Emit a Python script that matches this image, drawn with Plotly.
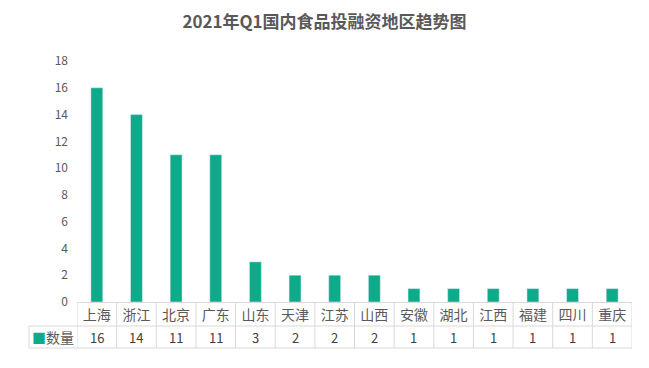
import plotly.graph_objects as go

categories = ["上海", "浙江", "北京", "广东", "山东", "天津", "江苏", "山西", "安徽", "湖北", "江西", "福建", "四川", "重庆"]
values = [16, 14, 11, 11, 3, 2, 2, 2, 1, 1, 1, 1, 1, 1]
series_name = "数量"
title = "2021年Q1国内食品投融资地区趋势图"
y_ticks = [0, 2, 4, 6, 8, 10, 12, 14, 16, 18]

BAR = "#0FAA8A"
GRID = "#D9D9D9"
TXT = "#595959"
FONT = "Noto Sans CJK SC, Microsoft YaHei, sans-serif"

W, H = 649, 368
L, R, T, B = 77, 17, 61, 66
ph = H - T - B
pw = W - L - R

def py(pix):
    return (H - B - pix) / ph

def px(pix):
    return (pix - L) / pw

fig = go.Figure()
fig.add_trace(go.Bar(x=categories, y=values, marker_color=BAR, width=0.3, name=series_name,
                     showlegend=False, hoverinfo="skip"))

shapes = []
n = len(categories)
for i in range(n + 1):
    shapes.append(dict(type="line", xref="x", yref="paper", x0=i - 0.5, x1=i - 0.5,
                       y0=0, y1=py(348), line=dict(color=GRID, width=1)))
for yy in (326, 348):
    shapes.append(dict(type="line", xref="paper", yref="paper", x0=px(29), x1=1,
                       y0=py(yy), y1=py(yy), line=dict(color=GRID, width=1)))
shapes.append(dict(type="line", xref="paper", yref="paper", x0=px(29), x1=px(29),
                   y0=py(326), y1=py(348), line=dict(color=GRID, width=1)))

annotations = []
for c, v in zip(categories, values):
    annotations.append(dict(x=c, xref="x", y=py(337), yref="paper", text=str(v), showarrow=False,
                            xanchor="center", yanchor="middle",
                            font=dict(family=FONT, size=13, color="#404040")))
annotations.append(dict(x=px(53), xref="paper", y=py(337), yref="paper",
                        text='<span style="color:%s">■</span>%s' % (BAR, series_name),
                        showarrow=False, xanchor="center", yanchor="middle",
                        font=dict(family=FONT, size=14, color=TXT)))

fig.update_layout(
    width=W, height=H,
    margin=dict(l=L, r=R, t=T, b=B, autoexpand=False),
    paper_bgcolor="white", plot_bgcolor="white",
    title=dict(text="<b>%s</b>" % title, x=0.5, xanchor="center", y=1 - 22 / H, yanchor="middle",
               font=dict(family=FONT, size=17, color=TXT)),
    bargap=0.7,
    xaxis=dict(showline=True, linecolor=GRID, linewidth=1, ticks="", showgrid=False, automargin=False,
               tickfont=dict(family=FONT, size=14, color=TXT), range=[-0.5, n - 0.5]),
    yaxis=dict(range=[0, 18], tickvals=y_ticks, showgrid=False, zeroline=False, showline=False, automargin=False,
               tickfont=dict(family=FONT, size=12, color=TXT), ticklabelstandoff=8),
    shapes=shapes,
    annotations=annotations,
)

fig.write_html("out.html", config={"displayModeBar": False},
               post_script="document.body.style.margin='0';document.body.style.overflow='hidden';")
